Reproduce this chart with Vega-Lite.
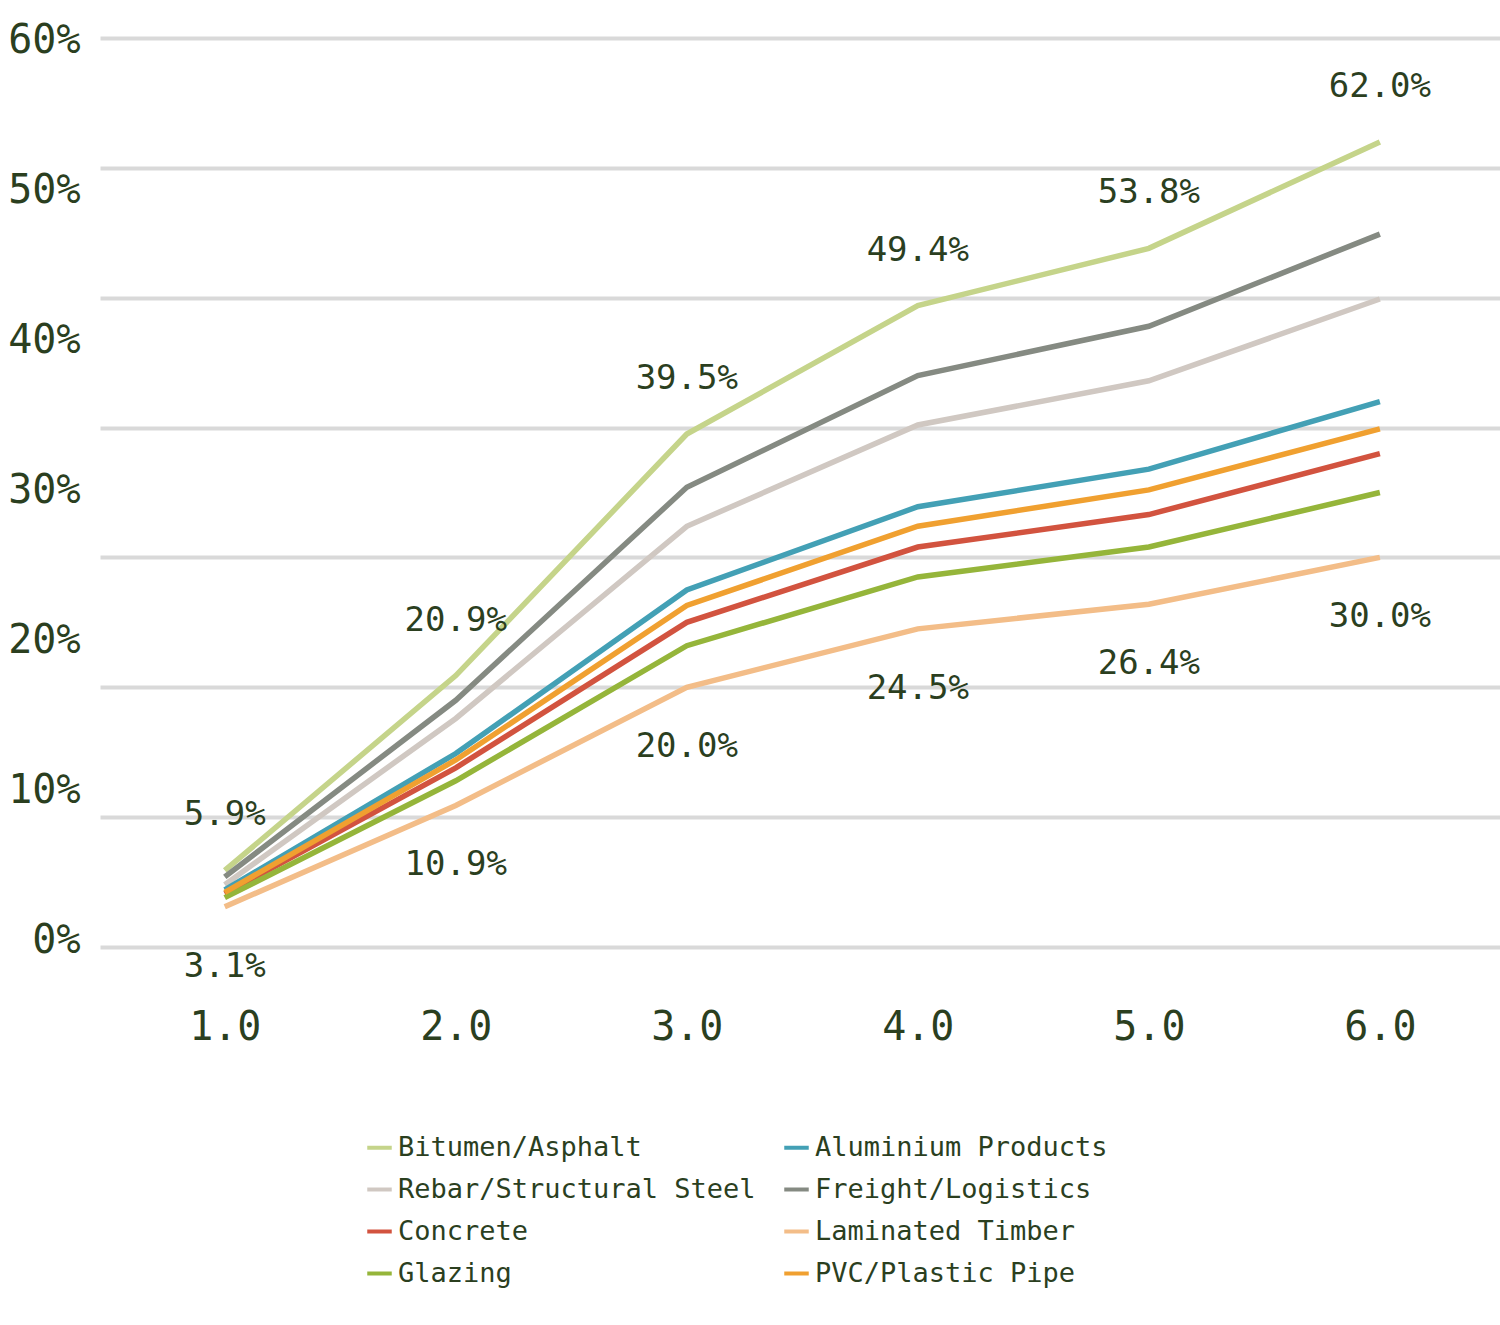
{
  "$schema": "https://vega.github.io/schema/vega-lite/v6.json",
  "width": 1400,
  "height": 909,
  "autosize": "none",
  "padding": {"left": 100, "top": 38, "right": 0, "bottom": 378},
  "background": "white",
  "config": {
    "view": {"stroke": null},
    "font": "DejaVu Sans Mono",
    "axis": {"labelFont": "DejaVu Sans Mono", "labelColor": "#2b3f1f"},
    "legend": {"labelFont": "DejaVu Sans Mono", "labelColor": "#2b3f1f"}
  },
  "data": {
    "values": [
      {"m": "Bitumen/Asphalt", "x": 1, "v": 5.9}, {"m": "Bitumen/Asphalt", "x": 2, "v": 20.9}, {"m": "Bitumen/Asphalt", "x": 3, "v": 39.5}, {"m": "Bitumen/Asphalt", "x": 4, "v": 49.4}, {"m": "Bitumen/Asphalt", "x": 5, "v": 53.8}, {"m": "Bitumen/Asphalt", "x": 6, "v": 62.0},
      {"m": "Rebar/Structural Steel", "x": 1, "v": 4.8}, {"m": "Rebar/Structural Steel", "x": 2, "v": 17.6}, {"m": "Rebar/Structural Steel", "x": 3, "v": 32.4}, {"m": "Rebar/Structural Steel", "x": 4, "v": 40.2}, {"m": "Rebar/Structural Steel", "x": 5, "v": 43.6}, {"m": "Rebar/Structural Steel", "x": 6, "v": 49.9},
      {"m": "Concrete", "x": 1, "v": 4.1}, {"m": "Concrete", "x": 2, "v": 13.8}, {"m": "Concrete", "x": 3, "v": 25.0}, {"m": "Concrete", "x": 4, "v": 30.8}, {"m": "Concrete", "x": 5, "v": 33.3}, {"m": "Concrete", "x": 6, "v": 38.0},
      {"m": "Glazing", "x": 1, "v": 3.8}, {"m": "Glazing", "x": 2, "v": 12.8}, {"m": "Glazing", "x": 3, "v": 23.2}, {"m": "Glazing", "x": 4, "v": 28.5}, {"m": "Glazing", "x": 5, "v": 30.8}, {"m": "Glazing", "x": 6, "v": 35.0},
      {"m": "Aluminium Products", "x": 1, "v": 4.4}, {"m": "Aluminium Products", "x": 2, "v": 14.9}, {"m": "Aluminium Products", "x": 3, "v": 27.5}, {"m": "Aluminium Products", "x": 4, "v": 33.9}, {"m": "Aluminium Products", "x": 5, "v": 36.8}, {"m": "Aluminium Products", "x": 6, "v": 42.0},
      {"m": "Freight/Logistics", "x": 1, "v": 5.4}, {"m": "Freight/Logistics", "x": 2, "v": 19.0}, {"m": "Freight/Logistics", "x": 3, "v": 35.4}, {"m": "Freight/Logistics", "x": 4, "v": 44.0}, {"m": "Freight/Logistics", "x": 5, "v": 47.8}, {"m": "Freight/Logistics", "x": 6, "v": 54.9},
      {"m": "Laminated Timber", "x": 1, "v": 3.1}, {"m": "Laminated Timber", "x": 2, "v": 10.9}, {"m": "Laminated Timber", "x": 3, "v": 20.0}, {"m": "Laminated Timber", "x": 4, "v": 24.5}, {"m": "Laminated Timber", "x": 5, "v": 26.4}, {"m": "Laminated Timber", "x": 6, "v": 30.0},
      {"m": "PVC/Plastic Pipe", "x": 1, "v": 4.2}, {"m": "PVC/Plastic Pipe", "x": 2, "v": 14.4}, {"m": "PVC/Plastic Pipe", "x": 3, "v": 26.3}, {"m": "PVC/Plastic Pipe", "x": 4, "v": 32.4}, {"m": "PVC/Plastic Pipe", "x": 5, "v": 35.2}, {"m": "PVC/Plastic Pipe", "x": 6, "v": 39.9}
    ]
  },
  "resolve": {"scale": {"y": "independent"}},
  "layer": [
    {
      "mark": {"type": "line", "strokeWidth": 5.5, "clip": false},
      "encoding": {
        "x": {"field": "x", "type": "quantitative", "scale": {"domain": [0.46, 6.52], "nice": false, "zero": false},
          "axis": {"values": [1, 2, 3, 4, 5, 6], "grid": false, "domain": false, "ticks": false, "labelFontSize": 40, "labelPadding": 60, "title": null}},
        "y": {"field": "v", "type": "quantitative", "scale": {"domain": [0, 70], "nice": false},
          "axis": {"values": [0, 10, 20, 30, 40, 50, 60, 70], "labels": false, "domain": false, "ticks": false, "gridColor": "#d9d9d9", "gridWidth": 4, "title": null}},
        "color": {"field": "m", "type": "nominal",
          "scale": {"domain": ["Bitumen/Asphalt", "Rebar/Structural Steel", "Concrete", "Glazing", "Aluminium Products", "Freight/Logistics", "Laminated Timber", "PVC/Plastic Pipe"],
            "range": ["#c5d48a", "#d0c8c2", "#d2533f", "#95b53a", "#43a0b5", "#858a82", "#f3bd88", "#f0a030"]},
          "legend": {"title": null, "orient": "none", "legendX": 265, "legendY": 1095, "columns": 2, "columnPadding": 20, "rowPadding": 14, "labelFontSize": 27, "symbolType": "stroke", "symbolStrokeWidth": 4, "symbolSize": 600, "labelLimit": 500}}
      }
    },
    {
      "transform": [{"filter": "datum.m == 'Bitumen/Asphalt'"}, {"calculate": "format(datum.v, '.1f') + '%'", "as": "lab"}],
      "mark": {"type": "text", "dy": -55, "fontSize": 34, "color": "#2b3f1f", "font": "DejaVu Sans Mono"},
      "encoding": {
        "x": {"field": "x", "type": "quantitative"},
        "y": {"field": "v", "type": "quantitative", "scale": {"domain": [0, 70], "nice": false}, "axis": null},
        "text": {"field": "lab"}
      }
    },
    {
      "transform": [{"filter": "datum.m == 'Laminated Timber'"}, {"calculate": "format(datum.v, '.1f') + '%'", "as": "lab"}],
      "mark": {"type": "text", "dy": 60, "fontSize": 34, "color": "#2b3f1f", "font": "DejaVu Sans Mono"},
      "encoding": {
        "x": {"field": "x", "type": "quantitative"},
        "y": {"field": "v", "type": "quantitative", "scale": {"domain": [0, 70], "nice": false}, "axis": null},
        "text": {"field": "lab"}
      }
    },
    {
      "data": {"values": [{"t": 0}, {"t": 60}]},
      "mark": {"type": "point", "opacity": 0},
      "encoding": {
        "y": {"field": "t", "type": "quantitative", "scale": {"domain": [-0.46, 60.2], "nice": false, "zero": false},
          "axis": {"orient": "left", "values": [0, 10, 20, 30, 40, 50, 60], "format": "d", "labelExpr": "datum.label + '%'", "grid": false, "domain": false, "ticks": false, "labelFontSize": 40, "labelPadding": 20, "title": null}}
      }
    }
  ]
}
